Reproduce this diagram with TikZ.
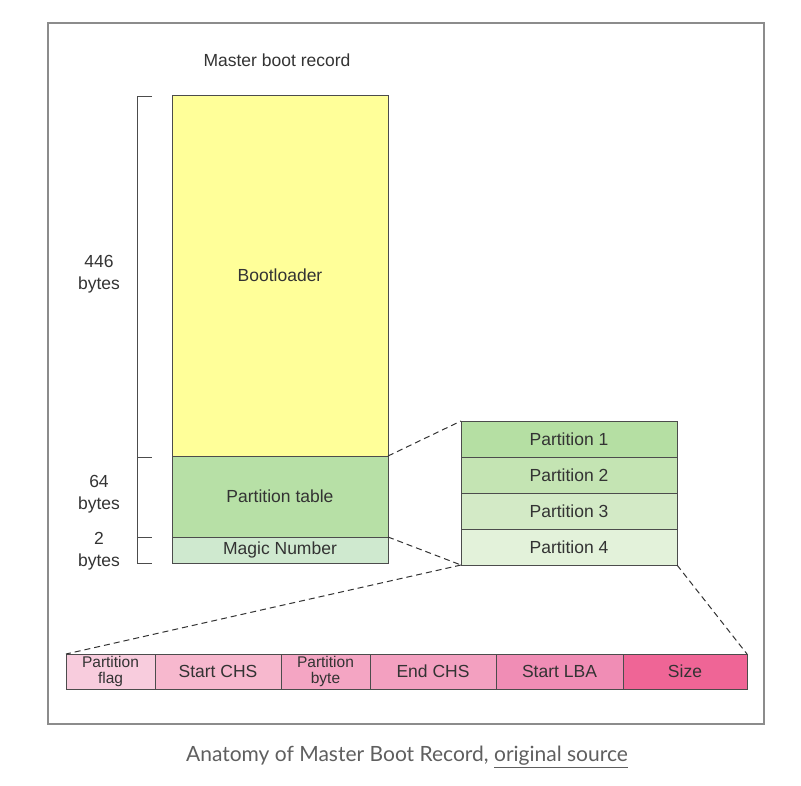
\documentclass[tikz,border=0pt]{standalone}
\usepackage{fontspec}
\setmainfont{Liberation Sans}
\newfontfamily\captionfont{Lato}
\usetikzlibrary{positioning}

\definecolor{bootfill}{HTML}{FFFF99}
\definecolor{ptabfill}{HTML}{B7E0A6}
\definecolor{magicfill}{HTML}{CFE9CF}
\definecolor{labeltext}{HTML}{333333}
\definecolor{framegray}{HTML}{8C8C8C}
\definecolor{captiongray}{HTML}{5F5F5F}

\begin{document}
\begin{tikzpicture}[
    x=1pt, y=-1pt,
    font=\fontsize{17.5}{20}\selectfont,
    cell/.style  = {draw=black!70, line width=0.8pt, inner sep=0pt,
                    outer sep=0pt, text=labeltext, anchor=north west},
    slot/.style  = {cell, minimum width=216pt, minimum height=36pt},
    field/.style = {cell, minimum height=35pt, align=center,
                    font=\fontsize{17.5}{20}\selectfont},
    twoline/.style = {font=\fontsize{15.5}{15.5}\selectfont},
    zoomline/.style = {line width=1pt, black!80, dash pattern=on 6pt off 4pt},
    bytescale/.style = {line width=0.9pt, black!70},
    sizelabel/.style = {labeltext, align=center,
                        font=\fontsize{17.5}{22}\selectfont},
  ]

  \useasboundingbox (0,0) rectangle (801,785);
  \draw[framegray, line width=1.6pt] (48,23) rectangle (764,724);

  % --- the 512-byte record ---------------------------------------------------
  \node[labeltext] (title) at (277,60) {Master boot record};
  \node[cell, fill=bootfill, minimum width=216pt, minimum height=361pt]
    (boot) at (172,95) {Bootloader};
  \node[cell, fill=ptabfill, minimum width=216pt, minimum height=81pt,
        below=0pt of boot.south west, anchor=north west] (ptab) {Partition table};
  \node[cell, fill=magicfill, minimum width=216pt, minimum height=26pt,
        below=0pt of ptab.south west, anchor=north west] (magic) {Magic Number};

  % --- size scale on the left ----------------------------------------------
  \draw[bytescale] (152,96) -- (137,96) -- (137,563) -- (152,563);
  \draw[bytescale] (137,457) -- (152,457);
  \draw[bytescale] (137,537) -- (152,537);
  \node[sizelabel] (size446) at (99,274) {446\\bytes};
  \node[sizelabel] (size64) at (99,494) {64\\bytes};
  \node[sizelabel] (size2) at (99,551) {2\\bytes};

  % --- the four partition entries ------------------------------------------
  \node[slot, fill={rgb,255:red,181;green,223;blue,163}] (p1) at (461,421) {Partition 1};
  \node[slot, fill={rgb,255:red,196;green,228;blue,179},
        below=0pt of p1.south west, anchor=north west] (p2) {Partition 2};
  \node[slot, fill={rgb,255:red,211;green,234;blue,198},
        below=0pt of p2.south west, anchor=north west] (p3) {Partition 3};
  \node[slot, fill={rgb,255:red,227;green,242;blue,218},
        below=0pt of p3.south west, anchor=north west] (p4) {Partition 4};

  % --- one entry, field by field -------------------------------------------
  \node[field, twoline, fill={rgb,255:red,248;green,204;blue,221}, minimum width=89pt]
    (flag) at (66,654) {Partition\\flag};
  \node[field, fill={rgb,255:red,247;green,184;blue,206}, minimum width=126pt,
        right=0pt of flag.north east, anchor=north west] (schs) {Start CHS};
  \node[field, twoline, fill={rgb,255:red,244;green,165;blue,195}, minimum width=89pt,
        right=0pt of schs.north east, anchor=north west] (ptype) {Partition\\byte};
  \node[field, fill={rgb,255:red,243;green,160;blue,192}, minimum width=126pt,
        right=0pt of ptype.north east, anchor=north west] (echs) {End CHS};
  \node[field, fill={rgb,255:red,240;green,141;blue,181}, minimum width=127pt,
        right=0pt of echs.north east, anchor=north west] (slba) {Start LBA};
  \node[field, fill={rgb,255:red,239;green,101;blue,150}, minimum width=124pt,
        right=0pt of slba.north east, anchor=north west] (size) {Size};

  % --- zoom lines ----------------------------------------------------------
  \draw[zoomline] (ptab.north east) -- (p1.north west);
  \draw[zoomline] (magic.north east) -- (p4.south west);
  \draw[zoomline] (p4.south west) -- (flag.north west);
  \draw[zoomline] (p4.south east) -- (size.north east);

  % --- caption -------------------------------------------------------------
  \node[captiongray, font=\captionfont\fontsize{21}{24}\selectfont]
    (caption) at (407,757) {Anatomy of Master Boot Record, \underline{original source}};

\end{tikzpicture}
\end{document}
